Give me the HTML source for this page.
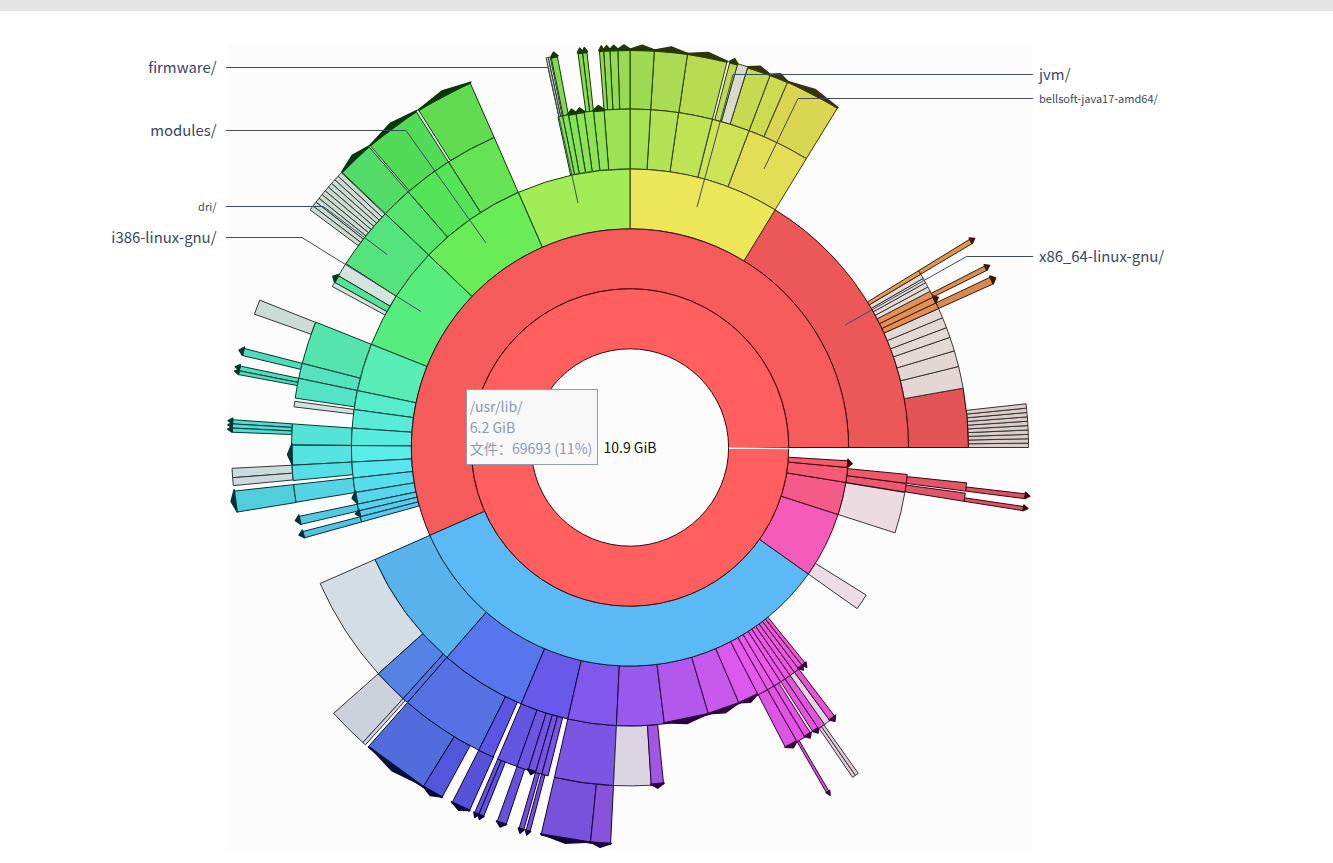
<!DOCTYPE html>
<html lang="zh"><head><meta charset="utf-8"><title>Filelight</title>
<style>
html,body{margin:0;padding:0;background:#fff;}
body{width:1333px;height:863px;position:relative;overflow:hidden;font-family:"Noto Sans CJK SC","Liberation Sans",sans-serif;}
#bar{position:absolute;left:0;top:0;width:1333px;height:10px;background:#e5e5e5;border-bottom:1px solid #e1e1e1;}
#map{position:absolute;left:226px;top:43px;width:807px;height:807px;background:#fcfcfc;}
svg{position:absolute;left:0;top:0;}
.lbl{position:absolute;color:#3b4664;white-space:nowrap;line-height:1;}
.l{text-align:right;right:1116.5px;}
.r{left:1039px;}
.big{font-size:14.9px;}
.sm{font-size:11px;}
#tip{position:absolute;left:466px;top:389px;width:130px;height:74px;border:1px solid #8f9cb6;background:#f8f8f8;color:#8d99b0;font-size:14.1px;line-height:20.5px;}
#tip div{position:absolute;left:2.7px;white-space:nowrap;}
#center{position:absolute;left:560px;width:140px;text-align:center;top:437px;font-size:14px;line-height:20px;color:#111;}
</style></head><body>
<div id="bar"></div>
<div id="map"></div>
<svg width="1333" height="863" viewBox="0 0 1333 863">
<path d="M1028.5 447.5A398.5 398.5 0 0 0 1028.48 443.12L968.38 443.78A338.4 338.4 0 0 1 968.4 447.5Z" fill="#dbcccc" stroke="#373333" stroke-width="1" fill-rule="evenodd"/>
<path d="M1028.48 443.12A398.5 398.5 0 0 0 1028.4 438.74L968.32 440.06A338.4 338.4 0 0 1 968.38 443.78Z" fill="#dbcccc" stroke="#373333" stroke-width="1" fill-rule="evenodd"/>
<path d="M1028.4 438.74A398.5 398.5 0 0 0 1028.28 434.36L968.22 436.34A338.4 338.4 0 0 1 968.32 440.06Z" fill="#dbcdcc" stroke="#373333" stroke-width="1" fill-rule="evenodd"/>
<path d="M1028.28 434.36A398.5 398.5 0 0 0 1028.11 429.98L968.07 432.62A338.4 338.4 0 0 1 968.22 436.34Z" fill="#dbcdcc" stroke="#373333" stroke-width="1" fill-rule="evenodd"/>
<path d="M1028.11 429.98A398.5 398.5 0 0 0 1027.9 425.6L967.89 428.9A338.4 338.4 0 0 1 968.07 432.62Z" fill="#dbcdcc" stroke="#373333" stroke-width="1" fill-rule="evenodd"/>
<path d="M1027.9 425.6A398.5 398.5 0 0 0 1027.63 421.23L967.66 425.19A338.4 338.4 0 0 1 967.89 428.9Z" fill="#dbcdcc" stroke="#373433" stroke-width="1" fill-rule="evenodd"/>
<path d="M1027.63 421.23A398.5 398.5 0 0 0 1027.32 416.86L967.4 421.48A338.4 338.4 0 0 1 967.66 425.19Z" fill="#dbcdcc" stroke="#373433" stroke-width="1" fill-rule="evenodd"/>
<path d="M1027.32 416.86A398.5 398.5 0 0 0 1026.96 412.49L967.09 417.77A338.4 338.4 0 0 1 967.4 421.48Z" fill="#dbcdcc" stroke="#373433" stroke-width="1" fill-rule="evenodd"/>
<path d="M1026.96 412.49A398.5 398.5 0 0 0 1026.55 408.13L966.74 414.07A338.4 338.4 0 0 1 967.09 417.77Z" fill="#dbcecc" stroke="#373433" stroke-width="1" fill-rule="evenodd"/>
<path d="M1026.55 408.13A398.5 398.5 0 0 0 1026.09 403.77L966.36 410.37A338.4 338.4 0 0 1 966.74 414.07Z" fill="#dbcecc" stroke="#373433" stroke-width="1" fill-rule="evenodd"/>
<path d="M993.34 283.83A398.5 398.5 0 0 0 990.28 277.2L935.94 302.88A338.4 338.4 0 0 1 938.54 308.51Z" fill="#db8952" stroke="#371905" stroke-width="1" fill-rule="evenodd"/>
<path d="M993.52 283.75A398.7 398.7 0 0 0 990.46 277.11L989.55 277.55A397.69 397.69 0 0 1 992.6 284.16Z" fill="#371905"/><path d="M993.35 283.79L995.64 277.95L989.71 275.9Z" fill="#371905" stroke="#371905" stroke-width="1.4" stroke-linejoin="round"/>
<path d="M986.94 270.32A398.5 398.49 0 0 0 984.75 265.97L931.25 293.34A338.4 338.4 0 0 1 933.11 297.04Z" fill="#db8d52" stroke="#371b05" stroke-width="1" fill-rule="evenodd"/>
<path d="M987.12 270.23A398.7 398.69 0 0 0 984.93 265.88L984.02 266.34A397.67 397.67 0 0 1 986.2 270.68Z" fill="#371b05"/><path d="M986.98 270.28L989.6 265.45L984.16 264.68Z" fill="#371b05" stroke="#371b05" stroke-width="1.4" stroke-linejoin="round"/>
<path d="M972.3 243.46A398.5 398.48 0 0 0 969.78 239.29L918.53 270.69A338.4 338.4 0 0 1 920.67 274.22Z" fill="#db9652" stroke="#371e05" stroke-width="1" fill-rule="evenodd"/>
<path d="M972.47 243.36A398.7 398.68 0 0 0 969.95 239.19L969.04 239.74A397.64 397.62 0 0 1 971.56 243.9Z" fill="#371e05"/><path d="M972.4 243.41L974.64 238.4L969.16 238.05Z" fill="#371e05" stroke="#371e05" stroke-width="1.4" stroke-linejoin="round"/>
<path d="M837.62 107.74A398.5 398.06 0 0 0 787.62 81.91L763.85 136.7A338.4 338.4 0 0 1 806.31 158.66Z" fill="#dbd652" stroke="#373505" stroke-width="1" fill-rule="evenodd"/>
<path d="M837.73 107.57A398.7 398.26 0 0 0 787.7 81.72L787.21 82.86A397.46 397.01 0 0 1 837.08 108.63Z" fill="#373505"/><path d="M838.06 107.56L815.01 89.41L786.86 81.1Z" fill="#373505" stroke="#373505" stroke-width="1.4" stroke-linejoin="round"/>
<path d="M787.62 82.03A398.5 397.93 0 0 0 770.21 75.02L749.06 130.74A338.4 338.4 0 0 1 763.85 136.7Z" fill="#cddb52" stroke="#323705" stroke-width="1" fill-rule="evenodd"/>
<path d="M787.7 81.84A398.7 398.13 0 0 0 770.28 74.83L769.83 76.01A397.44 396.86 0 0 1 787.2 83Z" fill="#323705"/><path d="M788.15 81.78L780.53 73.72L769.45 74.25Z" fill="#323705" stroke="#323705" stroke-width="1.4" stroke-linejoin="round"/>
<path d="M770.21 75.08A398.5 397.85 0 0 0 747.84 67.44L730.07 124.23A338.4 338.4 0 0 1 749.06 130.74Z" fill="#c6db52" stroke="#303705" stroke-width="1" fill-rule="evenodd"/>
<path d="M770.28 74.9A398.7 398.05 0 0 0 747.9 67.25L747.52 68.46A397.43 396.78 0 0 1 769.83 76.09Z" fill="#303705"/><path d="M770.76 74.81L760.44 66.32L747.08 66.72Z" fill="#303705" stroke="#303705" stroke-width="1.4" stroke-linejoin="round"/>
<path d="M747.84 66.82A398.5 398.5 0 0 0 737.5 63.77L721.29 121.65A338.4 338.4 0 0 1 730.07 124.23Z" fill="#d8dbcc" stroke="#363733" stroke-width="1" fill-rule="evenodd"/>
<path d="M737.5 64.48A398.5 397.77 0 0 0 729.78 62.4L714.73 119.88A338.4 338.4 0 0 1 721.29 121.65Z" fill="#bbdb52" stroke="#2b3705" stroke-width="1" fill-rule="evenodd"/>
<path d="M737.55 64.28A398.7 397.97 0 0 0 729.83 62.21L729.51 63.45A397.42 396.69 0 0 1 737.21 65.52Z" fill="#2b3705"/><path d="M738.09 64.15L734.74 58.56L729.02 61.72Z" fill="#2b3705" stroke="#2b3705" stroke-width="1.4" stroke-linejoin="round"/>
<path d="M727.08 61.78A398.5 397.7 0 0 0 687.53 53.97L678.85 112.64A338.4 338.4 0 0 1 712.44 119.3Z" fill="#b9db52" stroke="#2b3705" stroke-width="1" fill-rule="evenodd"/>
<path d="M727.13 61.59A398.7 397.9 0 0 0 687.55 53.77L687.37 55.05A397.41 396.61 0 0 1 726.81 62.84Z" fill="#2b3705"/><path d="M727.69 61.45L708.22 52.46L686.79 53.36Z" fill="#2b3705" stroke="#2b3705" stroke-width="1.4" stroke-linejoin="round"/>
<path d="M687.53 54.04A398.5 397.63 0 0 0 654.33 50.61L650.66 109.73A338.4 338.4 0 0 1 678.85 112.64Z" fill="#abdb52" stroke="#263705" stroke-width="1" fill-rule="evenodd"/>
<path d="M687.55 53.84A398.7 397.83 0 0 0 654.34 50.41L654.26 51.71A397.4 396.53 0 0 1 687.37 55.12Z" fill="#263705"/><path d="M688.17 53.63L671.39 47L653.61 50.07Z" fill="#263705" stroke="#263705" stroke-width="1.4" stroke-linejoin="round"/>
<path d="M654.33 50.64A398.5 397.6 0 0 0 630 49.9L630 109.1A338.4 338.4 0 0 1 650.66 109.73Z" fill="#9fdb52" stroke="#213705" stroke-width="1" fill-rule="evenodd"/>
<path d="M654.34 50.44A398.7 397.8 0 0 0 630 49.7L630 51A397.4 396.5 0 0 1 654.26 51.74Z" fill="#213705"/><path d="M655.01 50.18L642.3 45.08L629.3 49.4Z" fill="#213705" stroke="#213705" stroke-width="1.4" stroke-linejoin="round"/>
<path d="M630 49.9A398.5 397.6 0 0 0 617.83 50.08L619.67 109.26A338.4 338.4 0 0 1 630 109.1Z" fill="#96db52" stroke="#1e3705" stroke-width="1" fill-rule="evenodd"/>
<path d="M630 49.7A398.7 397.8 0 0 0 617.82 49.88L617.86 51.18A397.4 396.5 0 0 1 630 51Z" fill="#1e3705"/><path d="M630.7 49.4L623.85 44.95L617.14 49.61Z" fill="#1e3705" stroke="#1e3705" stroke-width="1.4" stroke-linejoin="round"/>
<path d="M617.83 50.08A398.5 397.6 0 0 0 609.84 50.4L612.88 109.53A338.4 338.4 0 0 1 619.67 109.26Z" fill="#94db52" stroke="#1d3705" stroke-width="1" fill-rule="evenodd"/>
<path d="M617.82 49.88A398.7 397.8 0 0 0 609.83 50.21L609.89 51.5A397.4 396.5 0 0 1 617.86 51.18Z" fill="#1d3705"/><path d="M618.54 49.56L613.66 45.23L609.16 49.94Z" fill="#1d3705" stroke="#1d3705" stroke-width="1.4" stroke-linejoin="round"/>
<path d="M609.84 50.4A398.5 397.61 0 0 0 603.59 50.76L607.57 109.84A338.4 338.4 0 0 1 612.88 109.53Z" fill="#92db52" stroke="#1c3705" stroke-width="1" fill-rule="evenodd"/>
<path d="M609.83 50.2A398.7 397.81 0 0 0 603.58 50.57L603.66 51.86A397.4 396.51 0 0 1 609.89 51.5Z" fill="#1c3705"/><path d="M610.55 49.86L606.47 45.58L602.91 50.31Z" fill="#1c3705" stroke="#1c3705" stroke-width="1.4" stroke-linejoin="round"/>
<path d="M603.59 50.76A398.5 397.61 0 0 0 599.43 51.06L604.04 110.1A338.4 338.4 0 0 1 607.57 109.84Z" fill="#8fdb52" stroke="#1c3705" stroke-width="1" fill-rule="evenodd"/>
<path d="M603.58 50.56A398.7 397.81 0 0 0 599.41 50.86L599.51 52.15A397.4 396.52 0 0 1 603.66 51.86Z" fill="#1c3705"/><path d="M604.31 50.21L601.21 45.91L598.75 50.61Z" fill="#1c3705" stroke="#1c3705" stroke-width="1.4" stroke-linejoin="round"/>
<path d="M586.96 52.19A398.5 397.63 0 0 0 582.47 52.7L589.64 111.52A338.4 338.4 0 0 1 593.45 111.08Z" fill="#89db52" stroke="#193705" stroke-width="1" fill-rule="evenodd"/>
<path d="M586.94 51.99A398.7 397.83 0 0 0 582.45 52.51L582.6 53.79A397.4 396.54 0 0 1 587.08 53.28Z" fill="#193705"/><path d="M587.69 51.61L584.24 47.47L581.81 52.29Z" fill="#193705" stroke="#193705" stroke-width="1.4" stroke-linejoin="round"/>
<path d="M582.47 52.7A398.5 397.64 0 0 0 577.99 53.26L585.83 112A338.4 338.4 0 0 1 589.64 111.52Z" fill="#89db52" stroke="#193705" stroke-width="1" fill-rule="evenodd"/>
<path d="M582.45 52.5A398.7 397.84 0 0 0 577.96 53.06L578.13 54.35A397.4 396.55 0 0 1 582.6 53.79Z" fill="#193705"/><path d="M583.2 52.11L579.7 48.01L577.33 52.85Z" fill="#193705" stroke="#193705" stroke-width="1.4" stroke-linejoin="round"/>
<path d="M557.38 56.47A398.5 397.69 0 0 0 551.23 57.65L563.11 115.78A338.4 338.4 0 0 1 568.33 114.77Z" fill="#7fdb52" stroke="#163705" stroke-width="1" fill-rule="evenodd"/>
<path d="M557.34 56.27A398.7 397.89 0 0 0 551.19 57.46L551.45 58.72A397.41 396.6 0 0 1 557.58 57.54Z" fill="#163705"/><path d="M558.12 55.83L553.51 52.12L550.61 57.28Z" fill="#163705" stroke="#163705" stroke-width="1.4" stroke-linejoin="round"/>
<path d="M550.21 57.07A398.5 398.5 0 0 0 548.17 57.49L560.51 116.31A338.4 338.4 0 0 1 562.24 115.95Z" fill="#d1dbcc" stroke="#343733" stroke-width="1" fill-rule="evenodd"/>
<path d="M548.17 57.49A398.5 398.5 0 0 0 546.13 57.93L558.78 116.68A338.4 338.4 0 0 1 560.51 116.31Z" fill="#d1dbcc" stroke="#343733" stroke-width="1" fill-rule="evenodd"/>
<path d="M470.14 82.86A398.5 398.07 0 0 0 418.53 110.1L450.42 160.68A338.4 338.4 0 0 1 494.25 137.52Z" fill="#62db52" stroke="#0b3705" stroke-width="1" fill-rule="evenodd"/>
<path d="M470.06 82.68A398.7 398.27 0 0 0 418.43 109.93L419.09 110.98A397.46 397.03 0 0 1 470.56 83.82Z" fill="#0b3705"/><path d="M470.9 82.06L441.88 91.02L418.1 109.93Z" fill="#0b3705" stroke="#0b3705" stroke-width="1.4" stroke-linejoin="round"/>
<path d="M416.18 111.43A398.5 398.26 0 0 0 370.14 145.57L409.33 190.95A338.4 338.4 0 0 1 448.43 161.94Z" fill="#52db56" stroke="#053707" stroke-width="1" fill-rule="evenodd"/>
<path d="M416.07 111.26A398.7 398.46 0 0 0 370.01 145.41L370.79 146.33A397.5 397.26 0 0 1 416.72 112.27Z" fill="#053707"/><path d="M416.93 110.5L390.04 123.49L369.8 145.45Z" fill="#053707" stroke="#053707" stroke-width="1.4" stroke-linejoin="round"/>
<path d="M368.82 146.62A398.5 398.37 0 0 0 341.9 172.27L385.35 213.71A338.4 338.4 0 0 1 408.21 191.91Z" fill="#52db68" stroke="#05370d" stroke-width="1" fill-rule="evenodd"/>
<path d="M368.69 146.47A398.7 398.57 0 0 0 341.75 172.13L342.59 172.94A397.54 397.41 0 0 1 369.45 147.34Z" fill="#05370d"/><path d="M369.55 145.59L352.16 155.29L341.63 172.19Z" fill="#05370d" stroke="#05370d" stroke-width="1.4" stroke-linejoin="round"/>
<path d="M341.42 172.69A398.5 398.5 0 0 0 338.08 176.23L382.11 217.14A338.4 338.4 0 0 1 384.94 214.13Z" fill="#ccdbd0" stroke="#333734" stroke-width="1" fill-rule="evenodd"/>
<path d="M338.08 176.23A398.5 398.5 0 0 0 334.79 179.82L379.31 220.19A338.4 338.4 0 0 1 382.11 217.14Z" fill="#ccdbd1" stroke="#333734" stroke-width="1" fill-rule="evenodd"/>
<path d="M334.79 179.82A398.5 398.5 0 0 0 331.54 183.45L376.55 223.27A338.4 338.4 0 0 1 379.31 220.19Z" fill="#ccdbd1" stroke="#333734" stroke-width="1" fill-rule="evenodd"/>
<path d="M331.54 183.45A398.5 398.5 0 0 0 328.34 187.11L373.83 226.38A338.4 338.4 0 0 1 376.55 223.27Z" fill="#ccdbd1" stroke="#333734" stroke-width="1" fill-rule="evenodd"/>
<path d="M328.34 187.11A398.5 398.5 0 0 0 325.18 190.82L371.15 229.53A338.4 338.4 0 0 1 373.83 226.38Z" fill="#ccdbd1" stroke="#333734" stroke-width="1" fill-rule="evenodd"/>
<path d="M325.18 190.82A398.5 398.5 0 0 0 322.07 194.56L368.51 232.71A338.4 338.4 0 0 1 371.15 229.53Z" fill="#ccdbd1" stroke="#333734" stroke-width="1" fill-rule="evenodd"/>
<path d="M322.07 194.56A398.5 398.5 0 0 0 319 198.34L365.9 235.92A338.4 338.4 0 0 1 368.51 232.71Z" fill="#ccdbd1" stroke="#333735" stroke-width="1" fill-rule="evenodd"/>
<path d="M319 198.34A398.5 398.5 0 0 0 315.98 202.16L363.34 239.16A338.4 338.4 0 0 1 365.9 235.92Z" fill="#ccdbd2" stroke="#333735" stroke-width="1" fill-rule="evenodd"/>
<path d="M315.98 202.16A398.5 398.5 0 0 0 313 206.01L360.81 242.43A338.4 338.4 0 0 1 363.34 239.16Z" fill="#ccdbd2" stroke="#333735" stroke-width="1" fill-rule="evenodd"/>
<path d="M313 206.01A398.5 398.5 0 0 0 310.08 209.9L358.33 245.74A338.4 338.4 0 0 1 360.81 242.43Z" fill="#ccdbd2" stroke="#333735" stroke-width="1" fill-rule="evenodd"/>
<path d="M259.74 300.16A398.5 398.5 0 0 0 254.47 314.15L311.11 334.26A338.4 338.4 0 0 1 315.58 322.38Z" fill="#ccdbd6" stroke="#333736" stroke-width="1" fill-rule="evenodd"/>
<path d="M244.02 348.4A398.5 398.5 0 0 0 242.27 355.49L300.74 369.36A338.4 338.4 0 0 1 302.23 363.34Z" fill="#52dbb9" stroke="#05372b" stroke-width="1" fill-rule="evenodd"/>
<path d="M243.83 348.35A398.7 398.7 0 0 0 242.07 355.44L242.97 355.65A397.78 397.78 0 0 1 244.72 348.58Z" fill="#05372b"/><path d="M244.48 346.99L239.05 350.13L242.4 355.44Z" fill="#05372b" stroke="#05372b" stroke-width="1.4" stroke-linejoin="round"/>
<path d="M239.92 366.01A398.5 398.5 0 0 0 238.95 370.78L297.93 382.35A338.4 338.4 0 0 1 298.75 378.3Z" fill="#52dbc0" stroke="#05372d" stroke-width="1" fill-rule="evenodd"/>
<path d="M239.73 365.97A398.7 398.7 0 0 0 238.76 370.74L239.64 370.91A397.8 397.8 0 0 1 240.61 366.15Z" fill="#05372d"/><path d="M240.36 364.59L235.31 366.76L239.12 370.72Z" fill="#05372d" stroke="#05372d" stroke-width="1.4" stroke-linejoin="round"/>
<path d="M238.95 370.78A398.5 398.5 0 0 0 238.24 374.54L297.32 385.54A338.4 338.4 0 0 1 297.93 382.35Z" fill="#52dbc0" stroke="#05372d" stroke-width="1" fill-rule="evenodd"/>
<path d="M238.76 370.74A398.7 398.7 0 0 0 238.04 374.5L238.92 374.66A397.81 397.81 0 0 1 239.64 370.91Z" fill="#05372d"/><path d="M239.38 369.35L234.47 371.07L238.4 374.48Z" fill="#05372d" stroke="#05372d" stroke-width="1.4" stroke-linejoin="round"/>
<path d="M232.47 419.7A398.5 398.5 0 0 0 232.2 423.87L292.2 427.43A338.4 338.4 0 0 1 292.42 423.89Z" fill="#52dbd0" stroke="#053733" stroke-width="1" fill-rule="evenodd"/>
<path d="M232.27 419.69A398.7 398.7 0 0 0 232 423.85L232.83 423.9A397.87 397.87 0 0 1 233.1 419.75Z" fill="#053733"/><path d="M232.82 418.23L228.14 420.71L232.46 423.78Z" fill="#053733" stroke="#053733" stroke-width="1.4" stroke-linejoin="round"/>
<path d="M232.2 423.87A398.5 398.5 0 0 0 231.98 428.03L292 430.97A338.4 338.4 0 0 1 292.2 427.43Z" fill="#52dbd2" stroke="#053734" stroke-width="1" fill-rule="evenodd"/>
<path d="M232 423.85A398.7 398.7 0 0 0 231.78 428.02L232.6 428.06A397.87 397.87 0 0 1 232.83 423.9Z" fill="#053734"/><path d="M232.54 422.39L227.89 424.92L232.24 427.95Z" fill="#053734" stroke="#053734" stroke-width="1.4" stroke-linejoin="round"/>
<path d="M231.98 428.03A398.5 398.5 0 0 0 231.79 432.2L291.85 434.51A338.4 338.4 0 0 1 292 430.97Z" fill="#52dbd4" stroke="#053735" stroke-width="1" fill-rule="evenodd"/>
<path d="M231.78 428.02A398.7 398.7 0 0 0 231.59 432.19L232.42 432.23A397.88 397.88 0 0 1 232.6 428.06Z" fill="#053735"/><path d="M232.31 426.55L227.68 429.13L232.07 432.11Z" fill="#053735" stroke="#053735" stroke-width="1.4" stroke-linejoin="round"/>
<path d="M232.05 468.31A398.5 397.6 0 0 0 232.65 477.66L292.57 473.17A338.4 338.4 0 0 1 292.06 465.21Z" fill="#ccdbdb" stroke="#333737" stroke-width="1" fill-rule="evenodd"/>
<path d="M232.65 477.66A398.5 397.6 0 0 0 233.33 485.61L293.16 479.93A338.4 338.4 0 0 1 292.57 473.17Z" fill="#ccdadb" stroke="#333737" stroke-width="1" fill-rule="evenodd"/>
<path d="M233.91 491.13A398.5 397.6 0 0 0 236.79 512.1L296.1 502.48A338.4 338.4 0 0 1 293.64 484.63Z" fill="#52cddb" stroke="#053237" stroke-width="1" fill-rule="evenodd"/>
<path d="M233.71 491.15A398.7 397.8 0 0 0 236.6 512.13L237.32 512.01A397.97 397.07 0 0 1 234.44 491.07Z" fill="#053237"/><path d="M234.13 489.6L231.05 501.4L237.2 511.94Z" fill="#053237" stroke="#053237" stroke-width="1.4" stroke-linejoin="round"/>
<path d="M333.62 713.29A398.5 397.6 0 0 0 362.83 742.51L403.13 698.58A338.4 338.4 0 0 1 378.32 673.71Z" fill="#ccd1db" stroke="#333437" stroke-width="1" fill-rule="evenodd"/>
<path d="M362.83 742.51A398.5 397.6 0 0 0 365.43 744.82L405.33 700.55A338.4 338.4 0 0 1 403.13 698.58Z" fill="#ccd0db" stroke="#333437" stroke-width="1" fill-rule="evenodd"/>
<path d="M368.04 747.12A398.5 397.6 0 0 0 422.97 787.23L454.19 736.65A338.4 338.4 0 0 1 407.54 702.51Z" fill="#526ddb" stroke="#050f37" stroke-width="1" fill-rule="evenodd"/>
<path d="M367.9 747.27A398.7 397.8 0 0 0 422.87 787.4L423.07 787.06A398.3 397.4 0 0 1 368.17 746.97Z" fill="#050f37"/><path d="M369.73 747.38L392.16 770.94L421.44 785.15Z" fill="#050f37" stroke="#050f37" stroke-width="1.4" stroke-linejoin="round"/>
<path d="M422.97 787.23A398.5 397.6 0 0 0 441.69 797.91L470.09 745.73A338.4 338.4 0 0 1 454.19 736.65Z" fill="#5256db" stroke="#050737" stroke-width="1" fill-rule="evenodd"/>
<path d="M422.87 787.4A398.7 397.8 0 0 0 441.59 798.08L441.77 797.76A398.33 397.43 0 0 1 423.06 787.09Z" fill="#050737"/><path d="M422.53 785.81L430.17 795.54L442.45 797.17Z" fill="#050737" stroke="#050737" stroke-width="1.4" stroke-linejoin="round"/>
<path d="M451.88 803.17A398.5 397.6 0 0 0 469.19 811.29L493.44 757.12A338.4 338.4 0 0 1 478.74 750.21Z" fill="#5852db" stroke="#080537" stroke-width="1" fill-rule="evenodd"/>
<path d="M451.79 803.35A398.7 397.8 0 0 0 469.11 811.47L469.25 811.15A398.35 397.45 0 0 1 451.94 803.04Z" fill="#080537"/><path d="M451.39 801.79L458.7 810.33L469.95 810.49Z" fill="#080537" stroke="#080537" stroke-width="1.4" stroke-linejoin="round"/>
<path d="M474.29 813.49A398.5 397.6 0 0 0 478.47 815.23L501.32 760.48A338.4 338.4 0 0 1 497.78 759Z" fill="#6252db" stroke="#0b0537" stroke-width="1" fill-rule="evenodd"/>
<path d="M474.22 813.68A398.7 397.8 0 0 0 478.39 815.42L478.52 815.1A398.36 397.46 0 0 1 474.35 813.37Z" fill="#0b0537"/><path d="M473.77 812.14L474.76 817.44L479.23 814.42Z" fill="#0b0537" stroke="#0b0537" stroke-width="1.4" stroke-linejoin="round"/>
<path d="M478.47 815.23A398.5 397.6 0 0 0 483.3 817.18L505.43 762.14A338.4 338.4 0 0 1 501.32 760.48Z" fill="#6252db" stroke="#0b0537" stroke-width="1" fill-rule="evenodd"/>
<path d="M478.39 815.42A398.7 397.8 0 0 0 483.23 817.37L483.35 817.05A398.36 397.46 0 0 1 478.52 815.11Z" fill="#0b0537"/><path d="M477.93 813.89L479.31 819.31L484.06 816.36Z" fill="#0b0537" stroke="#0b0537" stroke-width="1.4" stroke-linejoin="round"/>
<path d="M496.98 822.29A398.5 397.6 0 0 0 505.86 825.32L524.59 769.06A338.4 338.4 0 0 1 517.04 766.49Z" fill="#6852db" stroke="#0d0537" stroke-width="1" fill-rule="evenodd"/>
<path d="M496.91 822.48A398.7 397.8 0 0 0 505.8 825.51L505.9 825.2A398.37 397.47 0 0 1 497.02 822.17Z" fill="#0d0537"/><path d="M496.42 820.98L500.06 827.01L506.62 824.45Z" fill="#0d0537" stroke="#0d0537" stroke-width="1.4" stroke-linejoin="round"/>
<path d="M518.82 829.31A398.5 397.6 0 0 0 523.51 830.64L539.57 773.59A338.4 338.4 0 0 1 535.59 772.46Z" fill="#6f52db" stroke="#100537" stroke-width="1" fill-rule="evenodd"/>
<path d="M518.77 829.5A398.7 397.8 0 0 0 523.45 830.83L523.54 830.52A398.38 397.48 0 0 1 518.86 829.2Z" fill="#100537"/><path d="M518.23 828.03L520.01 833.22L524.26 829.74Z" fill="#100537" stroke="#100537" stroke-width="1.4" stroke-linejoin="round"/>
<path d="M525.85 831.28A398.5 397.6 0 0 0 529.89 832.35L544.99 775.05A338.4 338.4 0 0 1 541.56 774.14Z" fill="#7252db" stroke="#110537" stroke-width="1" fill-rule="evenodd"/>
<path d="M525.8 831.47A398.7 397.8 0 0 0 529.84 832.54L529.92 832.24A398.38 397.48 0 0 1 525.88 831.17Z" fill="#110537"/><path d="M525.26 830.01L526.79 835.08L530.64 831.43Z" fill="#110537" stroke="#110537" stroke-width="1.4" stroke-linejoin="round"/>
<path d="M541.03 835.07A398.5 397.6 0 0 0 590.42 843.13L596.39 784.23A338.4 338.4 0 0 1 554.45 777.36Z" fill="#7952db" stroke="#130537" stroke-width="1" fill-rule="evenodd"/>
<path d="M540.99 835.26A398.7 397.8 0 0 0 590.4 843.33L590.43 843.03A398.39 397.49 0 0 1 541.06 834.96Z" fill="#130537"/><path d="M540.42 833.82L564.92 843.22L591.15 842.1Z" fill="#130537" stroke="#130537" stroke-width="1.4" stroke-linejoin="round"/>
<path d="M590.42 843.13A398.5 397.6 0 0 0 610.53 844.63L613.47 785.5A338.4 338.4 0 0 1 596.39 784.23Z" fill="#8952db" stroke="#190537" stroke-width="1" fill-rule="evenodd"/>
<path d="M590.4 843.33A398.7 397.8 0 0 0 610.52 844.83L610.54 844.52A398.4 397.5 0 0 1 590.43 843.03Z" fill="#190537"/><path d="M589.75 841.97L600.16 847.4L611.25 843.56Z" fill="#190537" stroke="#190537" stroke-width="1.4" stroke-linejoin="round"/>
<path d="M826.84 793.21A398.5 397.6 0 0 0 829.25 791.83L799.2 740.56A338.4 338.4 0 0 1 797.15 741.74Z" fill="#d952db" stroke="#360537" stroke-width="1" fill-rule="evenodd"/>
<path d="M826.93 793.39A398.7 397.8 0 0 0 829.35 792L829.17 791.69A398.33 397.43 0 0 1 826.75 793.07Z" fill="#360537"/><path d="M826.08 792.49L830.13 795.37L829.71 790.42Z" fill="#360537" stroke="#360537" stroke-width="1.4" stroke-linejoin="round"/>
<path d="M852.55 777.32A398.5 397.6 0 0 0 855.43 775.37L821.43 726.55A338.4 338.4 0 0 1 818.99 728.21Z" fill="#dbccda" stroke="#373337" stroke-width="1" fill-rule="evenodd"/>
<path d="M855.43 775.37A398.5 397.6 0 0 0 858.29 773.39L823.86 724.87A338.4 338.4 0 0 1 821.43 726.55Z" fill="#dbccda" stroke="#373337" stroke-width="1" fill-rule="evenodd"/>
<path d="M1023.43 510.73A398.5 397.6 0 0 0 1024.07 506.61L964.64 497.81A338.4 338.4 0 0 1 964.09 501.31Z" fill="#db5268" stroke="#37050d" stroke-width="1" fill-rule="evenodd"/>
<path d="M1023.63 510.76A398.7 397.8 0 0 0 1024.27 506.64L1023.55 506.53A397.98 397.08 0 0 1 1022.91 510.64Z" fill="#37050d"/><path d="M1023.02 510.57L1027.91 508.52L1023.88 505.08Z" fill="#37050d" stroke="#37050d" stroke-width="1.4" stroke-linejoin="round"/>
<path d="M1025.18 498.71A398.5 397.6 0 0 0 1025.78 493.89L966.09 486.98A338.4 338.4 0 0 1 965.58 491.08Z" fill="#db5264" stroke="#37050c" stroke-width="1" fill-rule="evenodd"/>
<path d="M1025.38 498.73A398.7 397.8 0 0 0 1025.98 493.91L1025.24 493.83A397.96 397.06 0 0 1 1024.65 498.64Z" fill="#37050c"/><path d="M1024.79 498.56L1029.66 496.02L1025.56 492.36Z" fill="#37050c" stroke="#37050c" stroke-width="1.4" stroke-linejoin="round"/>
<path d="M968.4 447.5A338.4 338.4 0 0 0 963.16 388.16L904.18 398.66A278.5 278.5 0 0 1 908.5 447.5Z" fill="#e35555" stroke="#390505" stroke-width="1" fill-rule="evenodd"/>
<path d="M963.16 388.16A338.4 338.4 0 0 0 958.56 366.49L900.4 380.83A278.5 278.5 0 0 1 904.18 398.66Z" fill="#e3d6d4" stroke="#393635" stroke-width="1" fill-rule="evenodd"/>
<path d="M958.56 366.49A338.4 338.4 0 0 0 954.3 350.82L896.89 367.94A278.5 278.5 0 0 1 900.4 380.83Z" fill="#e3d7d4" stroke="#393635" stroke-width="1" fill-rule="evenodd"/>
<path d="M954.3 350.82A338.4 338.4 0 0 0 949.96 337.33L893.33 356.83A278.5 278.5 0 0 1 896.89 367.94Z" fill="#e3d8d4" stroke="#393635" stroke-width="1" fill-rule="evenodd"/>
<path d="M949.96 337.33A338.4 338.4 0 0 0 946.45 327.61L890.44 348.83A278.5 278.5 0 0 1 893.33 356.83Z" fill="#e3d9d4" stroke="#393635" stroke-width="1" fill-rule="evenodd"/>
<path d="M946.45 327.61A338.4 338.4 0 0 0 942.53 317.73L887.21 340.7A278.5 278.5 0 0 1 890.44 348.83Z" fill="#e3d9d4" stroke="#393635" stroke-width="1" fill-rule="evenodd"/>
<path d="M942.53 317.73A338.4 338.4 0 0 0 938.54 308.51L883.93 333.11A278.5 278.5 0 0 1 887.21 340.7Z" fill="#e3d9d4" stroke="#393735" stroke-width="1" fill-rule="evenodd"/>
<path d="M938.54 308.51A338.4 338.4 0 0 0 935.94 302.88L881.79 328.48A278.5 278.5 0 0 1 883.93 333.11Z" fill="#e38e55" stroke="#391a05" stroke-width="1" fill-rule="evenodd"/>
<path d="M935.94 302.88A338.4 338.4 0 0 0 933.11 297.04L879.46 323.67A278.5 278.5 0 0 1 881.79 328.48Z" fill="#e39055" stroke="#391b05" stroke-width="1" fill-rule="evenodd"/>
<path d="M936.12 302.8A338.6 338.6 0 0 0 933.29 296.95L932.38 297.4A337.58 337.58 0 0 1 935.2 303.23Z" fill="#391b05"/><path d="M935.97 302.84L938.32 297.32L932.53 295.74Z" fill="#391b05" stroke="#391b05" stroke-width="1.4" stroke-linejoin="round"/>
<path d="M933.11 297.04A338.4 338.4 0 0 0 930.16 291.24L877.03 318.9A278.5 278.5 0 0 1 879.46 323.67Z" fill="#e39255" stroke="#391c05" stroke-width="1" fill-rule="evenodd"/>
<path d="M930.16 291.24A338.4 338.4 0 0 0 927.88 286.94L875.16 315.36A278.5 278.5 0 0 1 877.03 318.9Z" fill="#e3dbd4" stroke="#393735" stroke-width="1" fill-rule="evenodd"/>
<path d="M927.88 286.94A338.4 338.4 0 0 0 925.54 282.67L873.23 311.84A278.5 278.5 0 0 1 875.16 315.36Z" fill="#e3dbd4" stroke="#393735" stroke-width="1" fill-rule="evenodd"/>
<path d="M925.54 282.67A338.4 338.4 0 0 0 923.14 278.43L871.25 308.36A278.5 278.5 0 0 1 873.23 311.84Z" fill="#e3dbd4" stroke="#393735" stroke-width="1" fill-rule="evenodd"/>
<path d="M923.14 278.43A338.4 338.4 0 0 0 920.67 274.22L869.22 304.9A278.5 278.5 0 0 1 871.25 308.36Z" fill="#e3dbd4" stroke="#393735" stroke-width="1" fill-rule="evenodd"/>
<path d="M920.67 274.22A338.4 338.4 0 0 0 918.53 270.69L867.46 301.98A278.5 278.5 0 0 1 869.22 304.9Z" fill="#e39c55" stroke="#391f05" stroke-width="1" fill-rule="evenodd"/>
<path d="M806.31 158.66A338.4 338.4 0 0 0 749.06 130.74L727.99 186.81A278.5 278.5 0 0 1 775.1 209.79Z" fill="#e3de55" stroke="#393705" stroke-width="1" fill-rule="evenodd"/>
<path d="M749.06 130.74A338.4 338.4 0 0 0 712.44 119.3L697.85 177.39A278.5 278.5 0 0 1 727.99 186.81Z" fill="#cee355" stroke="#313905" stroke-width="1" fill-rule="evenodd"/>
<path d="M712.44 119.3A338.4 338.4 0 0 0 678.56 112.6L669.96 171.88A278.5 278.5 0 0 1 697.85 177.39Z" fill="#bfe355" stroke="#2c3905" stroke-width="1" fill-rule="evenodd"/>
<path d="M678.56 112.6A338.4 338.4 0 0 0 650.66 109.73L647 169.52A278.5 278.5 0 0 1 669.96 171.88Z" fill="#b1e355" stroke="#273905" stroke-width="1" fill-rule="evenodd"/>
<path d="M650.66 109.73A338.4 338.4 0 0 0 630 109.1L630 169A278.5 278.5 0 0 1 647 169.52Z" fill="#a5e355" stroke="#233905" stroke-width="1" fill-rule="evenodd"/>
<path d="M630 109.1A338.4 338.4 0 0 0 604.04 110.1L608.63 169.82A278.5 278.5 0 0 1 630 169Z" fill="#9ce355" stroke="#1f3905" stroke-width="1" fill-rule="evenodd"/>
<path d="M604.04 110.1A338.4 338.4 0 0 0 593.45 111.08L599.92 170.63A278.5 278.5 0 0 1 608.63 169.82Z" fill="#92e355" stroke="#1c3905" stroke-width="1" fill-rule="evenodd"/>
<path d="M604.02 109.9A338.6 338.6 0 0 0 593.43 110.88L593.57 112.17A337.3 337.3 0 0 1 604.12 111.19Z" fill="#1c3905"/><path d="M604.76 109.54L598.35 105.56L592.79 110.65Z" fill="#1c3905" stroke="#1c3905" stroke-width="1.4" stroke-linejoin="round"/>
<path d="M593.45 111.08A338.4 338.4 0 0 0 584.07 112.23L592.2 171.58A278.5 278.5 0 0 1 599.92 170.63Z" fill="#8ee355" stroke="#1a3905" stroke-width="1" fill-rule="evenodd"/>
<path d="M584.07 112.23A338.4 338.4 0 0 0 575.9 113.45L585.47 172.58A278.5 278.5 0 0 1 592.2 171.58Z" fill="#8be355" stroke="#193905" stroke-width="1" fill-rule="evenodd"/>
<path d="M584.05 112.03A338.6 338.6 0 0 0 575.86 113.26L576.07 114.53A337.31 337.31 0 0 1 584.22 113.32Z" fill="#193905"/><path d="M584.81 111.63L579.36 107.86L575.25 113.06Z" fill="#193905" stroke="#193905" stroke-width="1.4" stroke-linejoin="round"/>
<path d="M575.9 113.45A338.4 338.4 0 0 0 568.33 114.77L579.25 173.66A278.5 278.5 0 0 1 585.47 172.58Z" fill="#86e355" stroke="#173905" stroke-width="1" fill-rule="evenodd"/>
<path d="M575.86 113.26A338.6 338.6 0 0 0 568.3 114.57L568.53 115.84A337.31 337.31 0 0 1 576.07 114.53Z" fill="#173905"/><path d="M576.63 112.84L571.39 109.15L567.7 114.39Z" fill="#173905" stroke="#173905" stroke-width="1.4" stroke-linejoin="round"/>
<path d="M568.33 114.77A338.4 338.4 0 0 0 562.53 115.89L574.48 174.59A278.5 278.5 0 0 1 579.25 173.66Z" fill="#84e355" stroke="#173905" stroke-width="1" fill-rule="evenodd"/>
<path d="M562.53 115.89A338.4 338.4 0 0 0 557.91 116.87L570.67 175.39A278.5 278.5 0 0 1 574.48 174.59Z" fill="#82e355" stroke="#163905" stroke-width="1" fill-rule="evenodd"/>
<path d="M494.25 137.52A338.4 338.4 0 0 0 448.43 161.94L480.57 212.48A278.5 278.5 0 0 1 518.28 192.39Z" fill="#65e355" stroke="#0b3905" stroke-width="1" fill-rule="evenodd"/>
<path d="M448.43 161.94A338.4 338.4 0 0 0 408.21 191.91L447.47 237.15A278.5 278.5 0 0 1 480.57 212.48Z" fill="#55e359" stroke="#053907" stroke-width="1" fill-rule="evenodd"/>
<path d="M408.21 191.91A338.4 338.4 0 0 0 385.35 213.71L428.65 255.09A278.5 278.5 0 0 1 447.47 237.15Z" fill="#55e36c" stroke="#05390e" stroke-width="1" fill-rule="evenodd"/>
<path d="M385.35 213.71A338.4 338.4 0 0 0 345.87 263.69L396.17 296.23A278.5 278.5 0 0 1 428.65 255.09Z" fill="#55e37b" stroke="#053913" stroke-width="1" fill-rule="evenodd"/>
<path d="M345.87 263.69A338.4 338.4 0 0 0 338.42 275.75L390.04 306.15A278.5 278.5 0 0 1 396.17 296.23Z" fill="#d4e3db" stroke="#353937" stroke-width="1" fill-rule="evenodd"/>
<path d="M338.42 275.75A338.4 338.4 0 0 0 334.6 282.41L386.89 311.63A278.5 278.5 0 0 1 390.04 306.15Z" fill="#55e399" stroke="#05391e" stroke-width="1" fill-rule="evenodd"/>
<path d="M338.25 275.65A338.6 338.6 0 0 0 334.43 282.31L335.34 282.82A337.55 337.55 0 0 1 339.16 276.18Z" fill="#05391e"/><path d="M339.04 274.5L332.85 276.18L334.52 282.37Z" fill="#05391e" stroke="#05391e" stroke-width="1.4" stroke-linejoin="round"/>
<path d="M334.6 282.41A338.4 338.4 0 0 0 332.33 286.55L385.02 315.04A278.5 278.5 0 0 1 386.89 311.63Z" fill="#d4e3db" stroke="#353937" stroke-width="1" fill-rule="evenodd"/>
<path d="M315.69 322.1A338.4 338.4 0 0 0 302.23 363.34L360.25 378.24A278.5 278.5 0 0 1 371.33 344.3Z" fill="#55e3af" stroke="#053926" stroke-width="1" fill-rule="evenodd"/>
<path d="M302.23 363.34A338.4 338.4 0 0 0 298.75 378.3L357.39 390.55A278.5 278.5 0 0 1 360.25 378.24Z" fill="#55e3bf" stroke="#05392c" stroke-width="1" fill-rule="evenodd"/>
<path d="M298.75 378.3A338.4 338.4 0 0 0 295.23 398.07L354.49 406.82A278.5 278.5 0 0 1 357.39 390.55Z" fill="#55e3c7" stroke="#05392f" stroke-width="1" fill-rule="evenodd"/>
<path d="M294.77 401.28A338.4 338.4 0 0 0 294.05 406.85L353.52 414.04A278.5 278.5 0 0 1 354.11 409.46Z" fill="#d4e3e1" stroke="#353938" stroke-width="1" fill-rule="evenodd"/>
<path d="M292.42 423.89A338.4 338.4 0 0 0 291.61 444.84L351.51 445.31A278.5 278.5 0 0 1 352.18 428.07Z" fill="#55e3d7" stroke="#053935" stroke-width="1" fill-rule="evenodd"/>
<path d="M291.61 445.14A338.4 338.4 0 0 0 292.06 465.21L351.88 462.08A278.5 278.5 0 0 1 351.51 445.56Z" fill="#55e3e1" stroke="#053938" stroke-width="1" fill-rule="evenodd"/>
<path d="M291.41 445.14A338.6 338.6 0 0 0 291.86 465.22L292.65 465.18A337.81 337.81 0 0 1 292.2 445.14Z" fill="#053938"/><path d="M291.91 443.64L287.49 454.47L292.4 465.09Z" fill="#053938" stroke="#053938" stroke-width="1.4" stroke-linejoin="round"/>
<path d="M292.06 465.21A338.4 338.4 0 0 0 293.22 480.52L352.83 474.68A278.5 278.5 0 0 1 351.88 462.08Z" fill="#55dee3" stroke="#053739" stroke-width="1" fill-rule="evenodd"/>
<path d="M293.64 484.63A338.4 338.4 0 0 0 296.05 502.19L355.16 492.51A278.5 278.5 0 0 1 353.18 478.06Z" fill="#55d5e3" stroke="#053439" stroke-width="1" fill-rule="evenodd"/>
<path d="M298.69 516.41A338.4 338.4 0 0 0 300.47 524.49L358.8 510.86A278.5 278.5 0 0 1 357.34 504.21Z" fill="#55c9e3" stroke="#053039" stroke-width="1" fill-rule="evenodd"/>
<path d="M298.5 516.45A338.6 338.6 0 0 0 300.28 524.53L300.95 524.37A337.91 337.91 0 0 1 299.17 516.31Z" fill="#053039"/><path d="M298.84 514.87L295.46 520.56L300.93 524.3Z" fill="#053039" stroke="#053039" stroke-width="1.4" stroke-linejoin="round"/>
<path d="M302.23 531.66A338.4 338.4 0 0 0 303.91 537.93L361.63 521.93A278.5 278.5 0 0 1 360.25 516.76Z" fill="#55c2e3" stroke="#052d39" stroke-width="1" fill-rule="evenodd"/>
<path d="M302.04 531.71A338.6 338.6 0 0 0 303.71 537.99L304.36 537.81A337.93 337.93 0 0 1 302.69 531.54Z" fill="#052d39"/><path d="M302.35 530.1L299 535.08L304.38 537.73Z" fill="#052d39" stroke="#052d39" stroke-width="1.4" stroke-linejoin="round"/>
<path d="M320.14 583.52A338.4 338.4 0 0 0 378.32 673.71L422.87 633.67A278.5 278.5 0 0 1 374.99 559.44Z" fill="#d4dde3" stroke="#353839" stroke-width="1" fill-rule="evenodd"/>
<path d="M378.32 673.71A338.4 338.4 0 0 0 403.13 698.58L443.29 654.14A278.5 278.5 0 0 1 422.87 633.67Z" fill="#5582e3" stroke="#051639" stroke-width="1" fill-rule="evenodd"/>
<path d="M403.13 698.58A338.4 338.4 0 0 0 407.54 702.51L446.92 657.37A278.5 278.5 0 0 1 443.29 654.14Z" fill="#5573e3" stroke="#051139" stroke-width="1" fill-rule="evenodd"/>
<path d="M407.54 702.51A338.4 338.4 0 0 0 478.74 750.21L505.52 696.63A278.5 278.5 0 0 1 446.92 657.37Z" fill="#5571e3" stroke="#051039" stroke-width="1" fill-rule="evenodd"/>
<path d="M478.74 750.21A338.4 338.4 0 0 0 493.17 757L517.39 702.22A278.5 278.5 0 0 1 505.52 696.63Z" fill="#5c55e3" stroke="#080539" stroke-width="1" fill-rule="evenodd"/>
<path d="M497.78 759A338.4 338.4 0 0 0 517.04 766.49L537.03 710.03A278.5 278.5 0 0 1 521.18 703.86Z" fill="#6555e3" stroke="#0b0539" stroke-width="1" fill-rule="evenodd"/>
<path d="M517.04 766.49A338.4 338.4 0 0 0 528.24 770.24L546.25 713.11A278.5 278.5 0 0 1 537.03 710.03Z" fill="#6c55e3" stroke="#0e0539" stroke-width="1" fill-rule="evenodd"/>
<path d="M528.24 770.24A338.4 338.4 0 0 0 535.59 772.46L552.3 714.94A278.5 278.5 0 0 1 546.25 713.11Z" fill="#7155e3" stroke="#100539" stroke-width="1" fill-rule="evenodd"/>
<path d="M528.18 770.43A338.6 338.6 0 0 0 535.53 772.66L535.62 772.35A338.28 338.28 0 0 1 528.28 770.12Z" fill="#100539"/><path d="M527.66 768.94L530.69 774.59L536.34 771.57Z" fill="#100539" stroke="#100539" stroke-width="1.4" stroke-linejoin="round"/>
<path d="M535.59 772.46A338.4 338.4 0 0 0 541.85 774.22L557.45 716.38A278.5 278.5 0 0 1 552.3 714.94Z" fill="#7355e3" stroke="#110539" stroke-width="1" fill-rule="evenodd"/>
<path d="M541.85 774.22A338.4 338.4 0 0 0 548.13 775.85L562.62 717.73A278.5 278.5 0 0 1 557.45 716.38Z" fill="#7655e3" stroke="#110539" stroke-width="1" fill-rule="evenodd"/>
<path d="M554.45 777.36A338.4 338.4 0 0 0 613.47 785.5L616.4 725.67A278.5 278.5 0 0 1 567.82 718.97Z" fill="#7d55e3" stroke="#140539" stroke-width="1" fill-rule="evenodd"/>
<path d="M613.47 785.5A338.4 338.4 0 0 0 651.25 785.23L647.49 725.45A278.5 278.5 0 0 1 616.4 725.67Z" fill="#dbd4e3" stroke="#373539" stroke-width="1" fill-rule="evenodd"/>
<path d="M651.25 785.23A338.4 338.4 0 0 0 663.61 784.23L657.66 724.62A278.5 278.5 0 0 1 647.49 725.45Z" fill="#a355e3" stroke="#220539" stroke-width="1" fill-rule="evenodd"/>
<path d="M651.26 785.43A338.6 338.6 0 0 0 663.63 784.43L663.6 784.13A338.3 338.3 0 0 1 651.24 785.13Z" fill="#220539"/><path d="M650.53 784.18L657.77 788.17L664.28 783.06Z" fill="#220539" stroke="#220539" stroke-width="1.4" stroke-linejoin="round"/>
<path d="M785.73 747.94A338.4 338.4 0 0 0 797.15 741.74L767.56 689.65A278.5 278.5 0 0 1 758.17 694.76Z" fill="#dc55e3" stroke="#360539" stroke-width="1" fill-rule="evenodd"/>
<path d="M785.82 748.11A338.6 338.6 0 0 0 797.25 741.91L797.07 741.6A338.24 338.24 0 0 1 785.66 747.79Z" fill="#360539"/><path d="M784.97 747.19L793.47 747.78L797.61 740.33Z" fill="#360539" stroke="#360539" stroke-width="1.4" stroke-linejoin="round"/>
<path d="M797.15 741.74A338.4 338.4 0 0 0 805.05 737.11L774.06 685.84A278.5 278.5 0 0 1 767.56 689.65Z" fill="#e155e3" stroke="#380539" stroke-width="1" fill-rule="evenodd"/>
<path d="M805.05 737.11A338.4 338.4 0 0 0 810.82 733.54L778.82 682.91A278.5 278.5 0 0 1 774.06 685.84Z" fill="#e355e1" stroke="#390538" stroke-width="1" fill-rule="evenodd"/>
<path d="M805.15 737.28A338.6 338.6 0 0 0 810.93 733.71L810.73 733.39A338.23 338.23 0 0 1 804.96 736.96Z" fill="#390538"/><path d="M804.29 736.41L810.15 738.11L811.26 732.11Z" fill="#390538" stroke="#390538" stroke-width="1.4" stroke-linejoin="round"/>
<path d="M813.07 732.11A338.4 338.4 0 0 0 818.5 728.54L785.13 678.79A278.5 278.5 0 0 1 780.66 681.73Z" fill="#e355de" stroke="#390537" stroke-width="1" fill-rule="evenodd"/>
<path d="M813.17 732.28A338.6 338.6 0 0 0 818.61 728.71L818.39 728.39A338.22 338.22 0 0 1 812.97 731.95Z" fill="#390537"/><path d="M812.31 731.43L818.1 733.05L818.91 727.1Z" fill="#390537" stroke="#390537" stroke-width="1.4" stroke-linejoin="round"/>
<path d="M818.5 728.54A338.4 338.4 0 0 0 824.58 724.36L790.14 675.35A278.5 278.5 0 0 1 785.13 678.79Z" fill="#e355dc" stroke="#390536" stroke-width="1" fill-rule="evenodd"/>
<path d="M824.58 724.36A338.4 338.4 0 0 0 829.86 720.58L794.48 672.24A278.5 278.5 0 0 1 790.14 675.35Z" fill="#e3d4e2" stroke="#393539" stroke-width="1" fill-rule="evenodd"/>
<path d="M829.86 720.58A338.4 338.4 0 0 0 835.07 716.69L798.77 669.04A278.5 278.5 0 0 1 794.48 672.24Z" fill="#e355d5" stroke="#390534" stroke-width="1" fill-rule="evenodd"/>
<path d="M829.98 720.74A338.6 338.6 0 0 0 835.19 716.85L834.95 716.53A338.2 338.2 0 0 1 829.74 720.41Z" fill="#390534"/><path d="M829.12 719.95L834.99 721.21L835.44 715.23Z" fill="#390534" stroke="#390534" stroke-width="1.4" stroke-linejoin="round"/>
<path d="M964.09 501.31A338.4 338.4 0 0 0 965.31 493.13L905.96 485.06A278.5 278.5 0 0 1 904.96 491.79Z" fill="#e3556c" stroke="#39050e" stroke-width="1" fill-rule="evenodd"/>
<path d="M965.58 491.08A338.4 338.4 0 0 0 966.55 482.87L906.97 476.61A278.5 278.5 0 0 1 906.18 483.37Z" fill="#e35568" stroke="#39050c" stroke-width="1" fill-rule="evenodd"/>
<path d="M908.5 447.5A278.5 278.5 0 0 0 775.1 209.79L743.89 260.91A218.6 218.6 0 0 1 848.6 447.5Z" fill="#ec5858" stroke="#3b0606" stroke-width="1" fill-rule="evenodd"/>
<path d="M775.1 209.79A278.5 278.5 0 0 0 630 169L630 228.9A218.6 218.6 0 0 1 743.89 260.91Z" fill="#ece758" stroke="#3b3906" stroke-width="1" fill-rule="evenodd"/>
<path d="M630 169A278.5 278.5 0 0 0 518.28 192.39L542.31 247.26A218.6 218.6 0 0 1 630 228.9Z" fill="#a2ec58" stroke="#203b06" stroke-width="1" fill-rule="evenodd"/>
<path d="M518.28 192.39A278.5 278.5 0 0 0 428.65 255.09L471.96 296.47A218.6 218.6 0 0 1 542.31 247.26Z" fill="#69ec58" stroke="#0c3b06" stroke-width="1" fill-rule="evenodd"/>
<path d="M428.65 255.09A278.5 278.5 0 0 0 371.33 344.3L426.96 366.5A218.6 218.6 0 0 1 471.96 296.47Z" fill="#58ec7f" stroke="#063b14" stroke-width="1" fill-rule="evenodd"/>
<path d="M371.33 344.3A278.5 278.5 0 0 0 357.39 390.55L416.02 402.8A218.6 218.6 0 0 1 426.96 366.5Z" fill="#58ecb6" stroke="#063b27" stroke-width="1" fill-rule="evenodd"/>
<path d="M357.39 390.55A278.5 278.5 0 0 0 354.11 409.46L413.45 417.64A218.6 218.6 0 0 1 416.02 402.8Z" fill="#58ecce" stroke="#063b30" stroke-width="1" fill-rule="evenodd"/>
<path d="M354.11 409.46A278.5 278.5 0 0 0 352.18 428.07L411.93 432.25A218.6 218.6 0 0 1 413.45 417.64Z" fill="#58ecd8" stroke="#063b34" stroke-width="1" fill-rule="evenodd"/>
<path d="M352.18 428.07A278.5 278.5 0 0 0 351.51 445.56L411.41 445.97A218.6 218.6 0 0 1 411.93 432.25Z" fill="#58ece0" stroke="#063b37" stroke-width="1" fill-rule="evenodd"/>
<path d="M351.51 445.56A278.5 278.5 0 0 0 351.88 462.08L411.7 458.94A218.6 218.6 0 0 1 411.41 445.97Z" fill="#58ecea" stroke="#063b3a" stroke-width="1" fill-rule="evenodd"/>
<path d="M351.88 462.08A278.5 278.5 0 0 0 353.18 478.06L412.72 471.49A218.6 218.6 0 0 1 411.7 458.94Z" fill="#58e7ec" stroke="#06393b" stroke-width="1" fill-rule="evenodd"/>
<path d="M353.18 478.06A278.5 278.5 0 0 0 355.16 492.51L414.27 482.83A218.6 218.6 0 0 1 412.72 471.49Z" fill="#58ddec" stroke="#06363b" stroke-width="1" fill-rule="evenodd"/>
<path d="M355.16 492.51A278.5 278.5 0 0 0 357.34 504.21L415.98 492.02A218.6 218.6 0 0 1 414.27 482.83Z" fill="#58d6ec" stroke="#06333b" stroke-width="1" fill-rule="evenodd"/>
<path d="M354.96 492.54A278.7 278.7 0 0 0 357.14 504.25L357.83 504.11A277.99 277.99 0 0 1 355.66 492.42Z" fill="#06333b"/><path d="M355.34 490.97L352.06 498.34L357.77 504.04Z" fill="#06333b" stroke="#06333b" stroke-width="1.4" stroke-linejoin="round"/>
<path d="M357.34 504.21A278.5 278.5 0 0 0 358.8 510.86L417.13 497.23A218.6 218.6 0 0 1 415.98 492.02Z" fill="#58d1ec" stroke="#06313b" stroke-width="1" fill-rule="evenodd"/>
<path d="M358.8 510.86A278.5 278.5 0 0 0 360.25 516.76L418.27 501.86A218.6 218.6 0 0 1 417.13 497.23Z" fill="#58ccec" stroke="#062f3b" stroke-width="1" fill-rule="evenodd"/>
<path d="M358.61 510.9A278.7 278.7 0 0 0 360.06 516.81L360.72 516.64A278.02 278.02 0 0 1 359.27 510.75Z" fill="#062f3b"/><path d="M358.94 509.31L355.43 514.01L360.71 516.56Z" fill="#062f3b" stroke="#062f3b" stroke-width="1.4" stroke-linejoin="round"/>
<path d="M360.25 516.76A278.5 278.5 0 0 0 361.63 521.93L419.35 505.92A218.6 218.6 0 0 1 418.27 501.86Z" fill="#58c9ec" stroke="#062f3b" stroke-width="1" fill-rule="evenodd"/>
<path d="M374.99 559.44A278.5 278.5 0 0 0 446.92 657.37L486.3 612.23A218.6 218.6 0 0 1 429.84 535.37Z" fill="#58b3ec" stroke="#06273b" stroke-width="1" fill-rule="evenodd"/>
<path d="M446.92 657.37A278.5 278.5 0 0 0 521.18 703.86L544.59 648.72A218.6 218.6 0 0 1 486.3 612.23Z" fill="#5876ec" stroke="#06103b" stroke-width="1" fill-rule="evenodd"/>
<path d="M521.18 703.86A278.5 278.5 0 0 0 567.82 718.97L581.2 660.58A218.6 218.6 0 0 1 544.59 648.72Z" fill="#6958ec" stroke="#0c063b" stroke-width="1" fill-rule="evenodd"/>
<path d="M567.82 718.97A278.5 278.5 0 0 0 616.4 725.67L619.32 665.84A218.6 218.6 0 0 1 581.2 660.58Z" fill="#8258ec" stroke="#15063b" stroke-width="1" fill-rule="evenodd"/>
<path d="M616.4 725.67A278.5 278.5 0 0 0 664.42 723.86L657.02 664.42A218.6 218.6 0 0 1 619.32 665.84Z" fill="#9b58ec" stroke="#1e063b" stroke-width="1" fill-rule="evenodd"/>
<path d="M664.42 723.86A278.5 278.5 0 0 0 708.63 714.67L691.72 657.21A218.6 218.6 0 0 1 657.02 664.42Z" fill="#b358ec" stroke="#27063b" stroke-width="1" fill-rule="evenodd"/>
<path d="M664.45 724.06A278.7 278.7 0 0 0 708.69 714.86L708.6 714.56A278.39 278.39 0 0 1 664.41 723.75Z" fill="#27063b"/><path d="M663.69 722.85L687.57 723.48L709.22 713.38Z" fill="#27063b" stroke="#27063b" stroke-width="1.4" stroke-linejoin="round"/>
<path d="M708.63 714.67A278.5 278.5 0 0 0 739.27 703.67L715.76 648.57A218.6 218.6 0 0 1 691.72 657.21Z" fill="#c958ec" stroke="#2f063b" stroke-width="1" fill-rule="evenodd"/>
<path d="M708.69 714.86A278.7 278.7 0 0 0 739.34 703.85L739.22 703.55A278.37 278.37 0 0 1 708.6 714.54Z" fill="#2f063b"/><path d="M707.88 713.78L725.53 712.77L739.79 702.32Z" fill="#2f063b" stroke="#2f063b" stroke-width="1.4" stroke-linejoin="round"/>
<path d="M739.27 703.67A278.5 278.5 0 0 0 758.17 694.76L730.6 641.58A218.6 218.6 0 0 1 715.76 648.57Z" fill="#db58ec" stroke="#35063b" stroke-width="1" fill-rule="evenodd"/>
<path d="M739.34 703.85A278.7 278.7 0 0 0 758.26 694.93L758.1 694.63A278.35 278.35 0 0 1 739.21 703.53Z" fill="#35063b"/><path d="M738.5 702.87L750.59 702.39L758.65 693.37Z" fill="#35063b" stroke="#35063b" stroke-width="1.4" stroke-linejoin="round"/>
<path d="M758.17 694.76A278.5 278.5 0 0 0 767.56 689.65L737.98 637.57A218.6 218.6 0 0 1 730.6 641.58Z" fill="#e558ec" stroke="#38063b" stroke-width="1" fill-rule="evenodd"/>
<path d="M767.56 689.65A278.5 278.5 0 0 0 774.06 685.84L743.08 634.58A218.6 218.6 0 0 1 737.98 637.57Z" fill="#ea58ec" stroke="#3a063b" stroke-width="1" fill-rule="evenodd"/>
<path d="M774.06 685.84A278.5 278.5 0 0 0 780.66 681.73L748.26 631.35A218.6 218.6 0 0 1 743.08 634.58Z" fill="#ec58ea" stroke="#3b063a" stroke-width="1" fill-rule="evenodd"/>
<path d="M780.66 681.73A278.5 278.5 0 0 0 785.13 678.79L751.76 629.05A218.6 218.6 0 0 1 748.26 631.35Z" fill="#ec58e7" stroke="#3b0639" stroke-width="1" fill-rule="evenodd"/>
<path d="M785.13 678.79A278.5 278.5 0 0 0 790.14 675.35L755.7 626.35A218.6 218.6 0 0 1 751.76 629.05Z" fill="#ec58e5" stroke="#3b0638" stroke-width="1" fill-rule="evenodd"/>
<path d="M790.14 675.35A278.5 278.5 0 0 0 794.48 672.24L759.11 623.9A218.6 218.6 0 0 1 755.7 626.35Z" fill="#ec58e0" stroke="#3b0637" stroke-width="1" fill-rule="evenodd"/>
<path d="M794.48 672.24A278.5 278.5 0 0 0 798.77 669.04L762.47 621.39A218.6 218.6 0 0 1 759.11 623.9Z" fill="#ec58dd" stroke="#3b0636" stroke-width="1" fill-rule="evenodd"/>
<path d="M798.77 669.04A278.5 278.5 0 0 0 802.61 666.06L765.48 619.05A218.6 218.6 0 0 1 762.47 621.39Z" fill="#ec58db" stroke="#3b0635" stroke-width="1" fill-rule="evenodd"/>
<path d="M798.89 669.2A278.7 278.7 0 0 0 802.73 666.22L802.48 665.9A278.3 278.3 0 0 1 798.64 668.88Z" fill="#3b0635"/><path d="M798.03 668.42L803.27 670.08L802.97 664.59Z" fill="#3b0635" stroke="#3b0635" stroke-width="1.4" stroke-linejoin="round"/>
<path d="M802.61 666.06A278.5 278.5 0 0 0 805.64 663.63L767.87 617.14A218.6 218.6 0 0 1 765.48 619.05Z" fill="#ec58d8" stroke="#3b0634" stroke-width="1" fill-rule="evenodd"/>
<path d="M802.73 666.22A278.7 278.7 0 0 0 805.77 663.78L805.51 663.47A278.29 278.29 0 0 1 802.48 665.9Z" fill="#3b0634"/><path d="M801.87 665.46L806.76 667.33L806 662.15Z" fill="#3b0634" stroke="#3b0634" stroke-width="1.4" stroke-linejoin="round"/>
<path d="M857.15 608.63A278.5 278.5 0 0 0 866.18 595.08L815.38 563.34A218.6 218.6 0 0 1 808.3 573.98Z" fill="#ecdce6" stroke="#3b3739" stroke-width="1" fill-rule="evenodd"/>
<path d="M895.09 532.87A278.5 278.5 0 0 0 904.84 492.51L845.73 482.83A218.6 218.6 0 0 1 838.08 514.51Z" fill="#ecdce1" stroke="#3b3738" stroke-width="1" fill-rule="evenodd"/>
<path d="M904.92 492.03A278.5 278.5 0 0 0 906.18 483.37L846.78 475.65A218.6 218.6 0 0 1 845.79 482.45Z" fill="#ec5871" stroke="#3b060e" stroke-width="1" fill-rule="evenodd"/>
<path d="M906.18 483.37A278.5 278.5 0 0 0 907.19 474.43L847.58 468.64A218.6 218.6 0 0 1 846.78 475.65Z" fill="#ec586c" stroke="#3b060d" stroke-width="1" fill-rule="evenodd"/>
<path d="M848.6 447.5A218.6 218.6 0 1 0 429.84 535.37L484.68 511.29A158.7 158.7 0 1 1 788.7 447.5Z" fill="#f55b5b" stroke="#3e0606" stroke-width="1" fill-rule="evenodd"/>
<path d="M429.84 535.37A218.6 218.6 0 0 0 808.3 573.98L759.44 539.32A158.7 158.7 0 0 1 484.68 511.29Z" fill="#5bbaf5" stroke="#06283e" stroke-width="1" fill-rule="evenodd"/>
<path d="M808.3 573.98A218.6 218.6 0 0 0 838.08 514.51L781.06 496.15A158.7 158.7 0 0 1 759.44 539.32Z" fill="#f55bb8" stroke="#3e0628" stroke-width="1" fill-rule="evenodd"/>
<path d="M838.08 514.51A218.6 218.6 0 0 0 845.79 482.45L786.66 472.87A158.7 158.7 0 0 1 781.06 496.15Z" fill="#f55b89" stroke="#3e0617" stroke-width="1" fill-rule="evenodd"/>
<path d="M845.79 482.45A218.6 218.6 0 0 0 847.68 467.5L788.03 462.02A158.7 158.7 0 0 1 786.66 472.87Z" fill="#f55b75" stroke="#3e060f" stroke-width="1" fill-rule="evenodd"/>
<path d="M847.68 467.5A218.6 218.6 0 0 0 848.19 460.85L788.4 457.19A158.7 158.7 0 0 1 788.03 462.02Z" fill="#f55b6b" stroke="#3e060b" stroke-width="1" fill-rule="evenodd"/>
<path d="M847.88 467.52A218.8 218.8 0 0 0 848.39 460.86L847.63 460.81A218.04 218.04 0 0 1 847.12 467.45Z" fill="#3e060b"/><path d="M847.32 467.37L852.15 463.7L847.93 459.33Z" fill="#3e060b" stroke="#3e060b" stroke-width="1.4" stroke-linejoin="round"/>
<path d="M788.7 447.5A158.7 158.7 0 1 0 471.3 447.5A158.7 158.7 0 1 0 788.7 447.5ZM728.6 447.5A98.6 98.6 0 1 1 531.4 447.5A98.6 98.6 0 1 1 728.6 447.5Z" fill="#ff5f5f" stroke="#400606" stroke-width="1" fill-rule="evenodd"/>
<defs><linearGradient id="g0" gradientUnits="userSpaceOnUse" x1="729" y1="0" x2="789" y2="0"><stop offset="0" stop-color="#c9a0a0" stop-opacity="0.3"/><stop offset="1" stop-color="#7a2626" stop-opacity="0.95"/></linearGradient></defs>
<line x1="729" y1="448.25" x2="788.6" y2="448.45" stroke="#fbf3f3" stroke-width="1.4"/>
<line x1="729" y1="447.35" x2="788.6" y2="447.6" stroke="url(#g0)" stroke-width="0.9"/>
<polyline points="226,67.5 548,67.5 578,203" fill="none" stroke="#3f4a69" stroke-width="1"/>
<polyline points="226,130.5 406,130.5 486,243" fill="none" stroke="#3f4a69" stroke-width="1"/>
<polyline points="226,206.5 323.5,206.5 387,254.5" fill="none" stroke="#3f4a69" stroke-width="1"/>
<polyline points="226,237.5 302,237.5 421,311.5" fill="none" stroke="#3f4a69" stroke-width="1"/>
<polyline points="1033,74.5 733,74.5 697,207" fill="none" stroke="#3f4a69" stroke-width="1"/>
<polyline points="1033,98.5 798,98.5 764,169" fill="none" stroke="#3f4a69" stroke-width="1"/>
<polyline points="1033,256.5 966.5,256.5 845,325" fill="none" stroke="#3f4a69" stroke-width="1"/>
</svg>
<div class="lbl l big" style="top:60px">firmware/</div>
<div class="lbl l big" style="top:123px">modules/</div>
<div class="lbl l sm" style="top:200.5px">dri/</div>
<div class="lbl l big" style="top:229.5px">i386-linux-gnu/</div>
<div class="lbl r big" style="top:67px">jvm/</div>
<div class="lbl r sm" style="top:93px">bellsoft-java17-amd64/</div>
<div class="lbl r big" style="top:249px">x86_64-linux-gnu/</div>
<div id="center">10.9 GiB</div>
<div id="tip"><div style="top:6px">/usr/lib/</div><div style="top:27px">6.2 GiB</div><div style="top:48px">文件：69693 (11%)</div></div>
</body></html>
